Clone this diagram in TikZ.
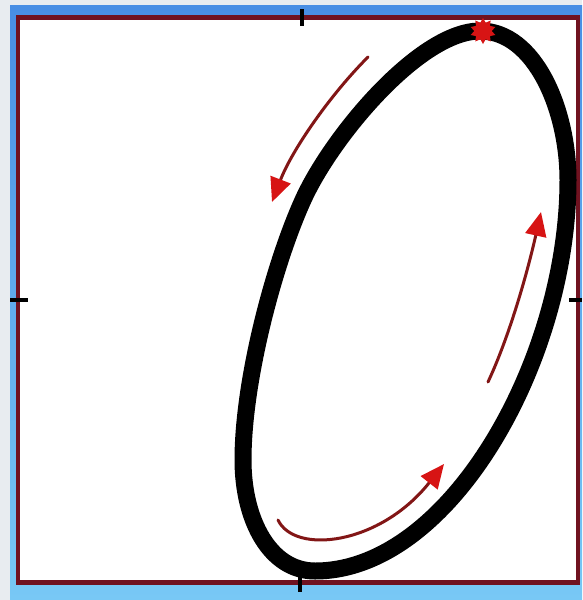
\documentclass[tikz,border=0pt]{standalone}
\usetikzlibrary{arrows.meta,shapes.geometric}
\definecolor{frame}{RGB}{112,18,32}
\definecolor{bgblue}{RGB}{72,142,228}
\definecolor{bglight}{RGB}{120,200,245}
\definecolor{arrowline}{RGB}{130,22,22}
\definecolor{arrowhead}{RGB}{215,20,20}
\definecolor{uigrey}{RGB}{232,236,240}
\tikzset{
  flow/.style={draw=arrowline, line width=3pt, line cap=round,
    -{Triangle[length=24pt,width=21pt,fill=arrowhead,color=arrowhead]}},
  tickmark/.style={draw=black, line width=4pt},
  loopline/.style={draw=black, line width=17pt, line join=round},
}
\begin{document}
\begin{tikzpicture}[x=1pt,y=-1pt]
\useasboundingbox (0,0) rectangle (582,600);
% background
\fill[uigrey] (0,0) rectangle (582,600);
\shade[top color=bgblue, bottom color=bglight] (10,5) rectangle (582,600);
% frame
\filldraw[draw=frame, fill=white, line width=4.5pt] (18,17.5) rectangle (578,582.5);
% ticks
\coordinate (tT1) at (302,9);  \coordinate (tT2) at (302,26);
\coordinate (tL1) at (10,300); \coordinate (tL2) at (28,300);
\coordinate (tR1) at (569,300);\coordinate (tR2) at (582,300);
\coordinate (tB1) at (300,570);\coordinate (tB2) at (300,592);
\draw[tickmark] (tT1) -- (tT2);
\draw[tickmark] (tL1) -- (tL2);
\draw[tickmark] (tR1) -- (tR2);
\draw[tickmark] (tB1) -- (tB2);
% loop
\coordinate (lpT) at (480,31);
\coordinate (lpR) at (568,180);
\coordinate (lpB) at (315,571);
\coordinate (lpL) at (243,460);
\coordinate (lpUL) at (303,200);
\draw[loopline] (lpT) .. controls (535,31) and (568,110) .. (lpR)
  .. controls (568,360) and (450,571) .. (lpB)
  .. controls (270,571) and (243,520) .. (lpL)
  .. controls (243,380) and (274,264) .. (lpUL)
  .. controls (332,136) and (420,31) .. (lpT) -- cycle;
% marker at top
\node[star, star points=10, star point ratio=1.5, fill=arrowhead, inner sep=0pt,
      minimum size=26pt] (mark) at (483,31) {};
% arrows
\coordinate (a1s) at (368,57);  \coordinate (a1e) at (272,202);
\coordinate (a2s) at (488,382); \coordinate (a2e) at (541,212);
\coordinate (a3s) at (278,520); \coordinate (a3e) at (444,464);
\draw[flow] (a1s) .. controls (330,95) and (292,150) .. (a1e);
\draw[flow] (a2s) .. controls (510,335) and (528,270) .. (a2e);
\draw[flow] (a3s) .. controls (295,555) and (380,545) .. (a3e);
\end{tikzpicture}
\end{document}
